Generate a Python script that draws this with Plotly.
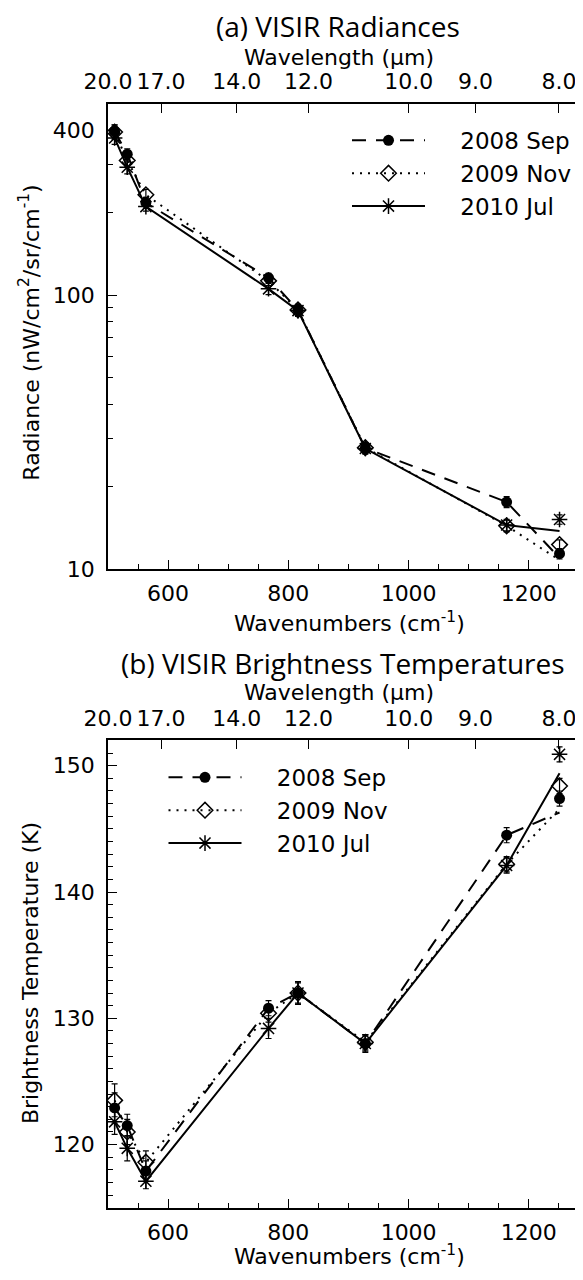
import plotly.graph_objects as go
import numpy as np

# ---------------- data ----------------
wavenumbers = [511, 532, 563, 767, 816, 928, 1163, 1251]   # cm^-1
series_names = ["2008 Sep", "2009 Nov", "2010 Jul"]

# (a) radiances, nW/cm2/sr/cm-1 (markers)
rad_2008 = [398, 328, 218, 116, 88.5, 27.7, 17.6, 11.4]
rad_2009 = [395, 311, 233, 113, 88.5, 27.8, 14.4, 12.3]
rad_2010 = [376, 294, 211, 105.7, 88.0, 27.6, 14.5, 15.2]
# connecting lines (last vertex differs from the last marker)
rad_line_2008 = [398, 328, 218, 116, 88.5, 27.7, 17.6, 11.0]
rad_line_2009 = [395, 311, 233, 113, 88.5, 27.8, 14.4, 10.8]
rad_line_2010 = [376, 294, 211, 105.7, 88.0, 27.6, 14.5, 13.8]
rad_err_2008 = [22, 15, 10, 4.5, 4.0, 1.2, 0.8, 0.5]
rad_err_2009 = [24, 16, 11, 4.5, 4.2, 1.2, 0.7, 0.5]
rad_err_2010 = [20, 16, 8, 5.0, 4.2, 1.3, 0.7, 0.6]

# (b) brightness temperatures, K (markers)
bt_2008 = [122.9, 121.5, 117.9, 130.8, 132.0, 128.0, 144.5, 147.4]
bt_2009 = [123.5, 121.0, 118.6, 130.4, 132.0, 128.1, 142.2, 148.4]
bt_2010 = [121.8, 119.7, 117.1, 129.2, 132.0, 128.0, 142.1, 150.9]
bt_line_2008 = [122.9, 121.5, 117.9, 130.8, 132.0, 128.0, 144.5, 146.3]
bt_line_2009 = [123.5, 121.0, 118.6, 130.4, 132.0, 128.1, 142.2, 146.6]
bt_line_2010 = [121.8, 119.7, 117.1, 129.2, 132.0, 128.0, 142.1, 149.4]
bt_err_2008 = [1.2, 0.9, 0.8, 0.6, 0.8, 0.6, 0.6, 0.6]
bt_err_2009 = [1.3, 1.0, 0.9, 0.7, 0.9, 0.6, 0.6, 0.6]
bt_err_2010 = [1.0, 1.0, 0.6, 0.8, 0.9, 0.7, 0.6, 0.6]

wavelength_ticks = [20.0, 17.0, 14.0, 12.0, 10.0, 9.0, 8.0]   # micron
rad_tick_labels = [10, 100, 400]
rad_minor_ticks = [20, 30, 40, 50, 60, 70, 80, 90, 200, 300]
bt_tick_labels = [120, 130, 140, 150]
wn_tick_labels = [600, 800, 1000, 1200]

# ---------------- style ----------------
FONT = "DejaVu Sans"
TFONT = "Open Sans"
LEG_PAD = "\u2003\u00a0"   # gap between legend sample and label
styles = {
    "2008 Sep": dict(dash="14px,10px", symbol="circle", size=11, lw=0),
    "2009 Nov": dict(dash="2px,6px", symbol="diamond-open", size=12, lw=1.5),
    "2010 Jul": dict(dash="solid", symbol="asterisk-open", size=13, lw=1.5),
}

panels = [
    dict(xa="x", ya="y", xt="x3", leg="legend",
         vals=[rad_2008, rad_2009, rad_2010],
         lines=[rad_line_2008, rad_line_2009, rad_line_2010],
         errs=[rad_err_2008, rad_err_2009, rad_err_2010]),
    dict(xa="x2", ya="y2", xt="x4", leg="legend2",
         vals=[bt_2008, bt_2009, bt_2010],
         lines=[bt_line_2008, bt_line_2009, bt_line_2010],
         errs=[bt_err_2008, bt_err_2009, bt_err_2010]),
]

fig = go.Figure()
for p in panels:
    for name, lv in zip(series_names, p["lines"]):
        s = styles[name]
        fig.add_trace(go.Scatter(x=wavenumbers, y=lv, mode="lines",
                                 line=dict(color="black", width=2, dash=s["dash"]),
                                 xaxis=p["xa"], yaxis=p["ya"], showlegend=False,
                                 hoverinfo="skip"))
    for name, v, e in zip(series_names, p["vals"], p["errs"]):
        s = styles[name]
        fig.add_trace(go.Scatter(x=wavenumbers, y=v, mode="markers",
                                 marker=dict(symbol=s["symbol"], size=s["size"], color="black",
                                             line=dict(color="black", width=s["lw"])),
                                 error_y=dict(type="data", array=e, color="black",
                                              thickness=1.2, width=3),
                                 xaxis=p["xa"], yaxis=p["ya"], showlegend=False))
    for name in series_names:
        s = styles[name]
        fig.add_trace(go.Scatter(x=[None], y=[None], mode="lines+markers",
                                 name=LEG_PAD + name,
                                 line=dict(color="black", width=2, dash=s["dash"]),
                                 marker=dict(symbol=s["symbol"], size=s["size"], color="black",
                                             line=dict(color="black", width=s["lw"])),
                                 xaxis=p["xa"], yaxis=p["ya"], legend=p["leg"]))
    # activates the wavelength axis on top
    fig.add_trace(go.Scatter(x=[None], y=[None], xaxis=p["xt"], yaxis=p["ya"],
                             showlegend=False, hoverinfo="skip"))

tickfont = dict(family=FONT, size=22, color="black")
common = dict(showline=True, linecolor="black", linewidth=1.5, ticks="inside",
              ticklen=9, tickwidth=1.2, tickcolor="black", showgrid=False,
              zeroline=False, tickfont=tickfont)
minor_x = dict(tickvals=list(range(550, 1300, 50)), ticklen=5, ticks="inside",
               tickwidth=1.2, tickcolor="black")
wl_pos = [1e4 / w for w in wavelength_ticks]
wl_txt = [f"{w:.1f}" for w in wavelength_ticks]

dom_top = [1 - 567 / 1280, 1 - 97 / 1280]
dom_bot = [1 - 1212 / 1280, 1 - 740 / 1280]

PLOT_W = 481

def px_x(px):
    return (px - 100) / PLOT_W

def px_y(py):
    return 1 - py / 1280

legend_common = dict(xanchor="left", yanchor="top",
                     font=dict(family=FONT, size=23, color="black"),
                     bgcolor="rgba(0,0,0,0)", itemwidth=73, tracegroupgap=0)

fig.update_layout(
    width=583, height=1280,
    margin=dict(l=100, r=2, t=0, b=0),
    paper_bgcolor="white", plot_bgcolor="white",
    xaxis=dict(**common, domain=[0, 1], range=[500, 1300], anchor="y",
               tickvals=wn_tick_labels, minor=minor_x, mirror=False,
               ticklabelstandoff=4),
    yaxis=dict(**common, domain=dom_top, type="log", range=[1, np.log10(500)],
               anchor="x", tickvals=rad_tick_labels, mirror="ticks",
               ticklabelstandoff=7,
               minor=dict(tickvals=rad_minor_ticks, ticklen=5, ticks="inside",
                          tickwidth=1.2, tickcolor="black")),
    xaxis3=dict(**common, overlaying="x", anchor="y", side="top", range=[500, 1300],
                tickvals=wl_pos, ticktext=wl_txt, mirror=False, ticklabelstandoff=4),
    xaxis2=dict(**common, domain=[0, 1], range=[500, 1300], anchor="y2",
                tickvals=wn_tick_labels, minor=minor_x, mirror=False,
                ticklabelstandoff=4),
    yaxis2=dict(**common, domain=dom_bot, range=[115, 152], anchor="x2",
                tickvals=bt_tick_labels, mirror="ticks", ticklabelstandoff=7,
                minor=dict(dtick=1, tick0=0, ticklen=5, ticks="inside",
                           tickwidth=1.2, tickcolor="black")),
    xaxis4=dict(**common, overlaying="x2", anchor="y2", side="top", range=[500, 1300],
                tickvals=wl_pos, ticktext=wl_txt, mirror=False, ticklabelstandoff=4),
    legend=dict(x=px_x(339), y=px_y(112), **legend_common),
    legend2=dict(x=px_x(155.5), y=px_y(755.5), **legend_common),
    showlegend=True,
)

ann = [
    dict(text="(a) VISIR Radiances", x=px_x(330), y=px_y(18), font=dict(family=TFONT, size=28)),
    dict(text="Wavelength (μm)", x=px_x(331), y=px_y(50), font=dict(family=FONT, size=22)),
    dict(text="Wavenumbers (cm<sup>-1</sup>)", x=px_x(341), y=px_y(620), font=dict(family=FONT, size=22)),
    dict(text="Radiance (nW/cm<sup>2</sup>/sr/cm<sup>-1</sup>)", x=px_x(21), y=px_y(328),
         textangle=-90, font=dict(family=FONT, size=22)),
    dict(text="(b) VISIR Brightness Temperatures", x=px_x(335), y=px_y(662), font=dict(family=TFONT, size=28)),
    dict(text="Wavelength (μm)", x=px_x(331), y=px_y(692), font=dict(family=FONT, size=22)),
    dict(text="Wavenumbers (cm<sup>-1</sup>)", x=px_x(341), y=px_y(1260), font=dict(family=FONT, size=22)),
    dict(text="Brightness Temperature (K)", x=px_x(22), y=px_y(975),
         textangle=-90, font=dict(family=FONT, size=22)),
]
for a in ann:
    a["font"]["color"] = "black"
    fig.add_annotation(xref="paper", yref="paper", showarrow=False,
                       xanchor="center", yanchor="middle", **a)

fig.write_html("out.html")
